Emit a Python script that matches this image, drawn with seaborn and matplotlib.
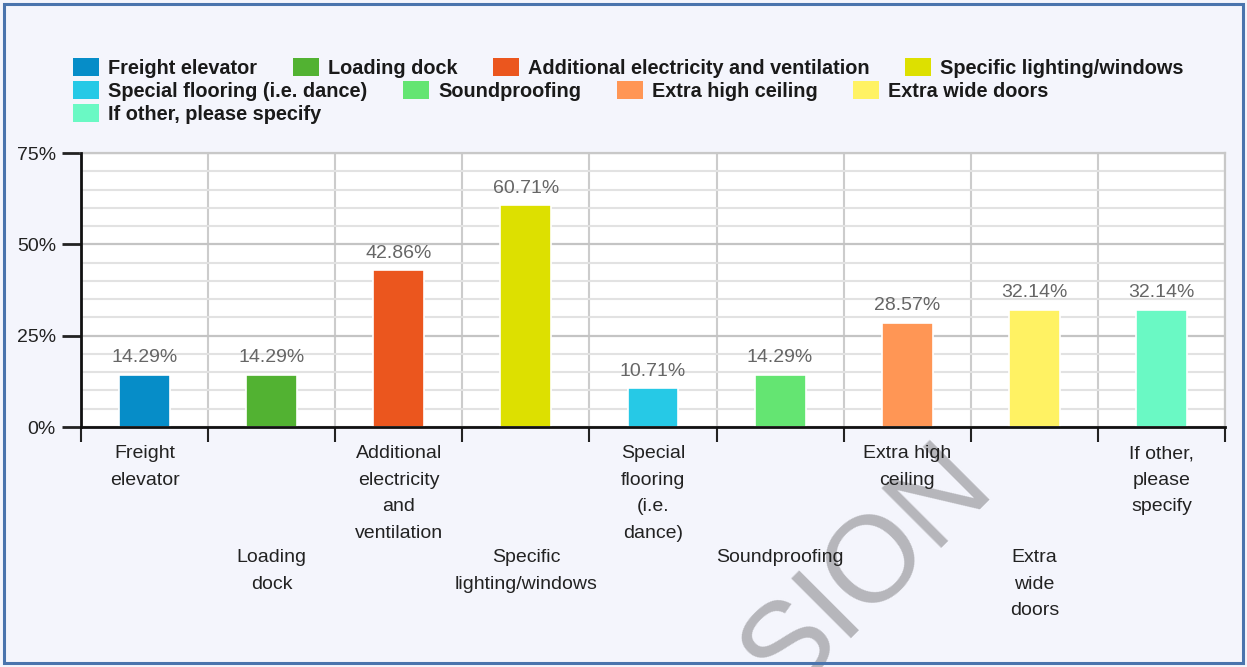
import matplotlib
matplotlib.use("Agg")
import matplotlib.pyplot as plt
import matplotlib.patches as mpatches
from matplotlib.transforms import ScaledTranslation
from matplotlib.ticker import MultipleLocator, FuncFormatter
import seaborn as sns
import pandas as pd

# ---- data -------------------------------------------------------------
categories = [
    "Freight elevator",
    "Loading dock",
    "Additional electricity and ventilation",
    "Specific lighting/windows",
    "Special flooring (i.e. dance)",
    "Soundproofing",
    "Extra high ceiling",
    "Extra wide doors",
    "If other, please specify",
]
axis_labels = [
    "Freight\nelevator",
    "Loading\ndock",
    "Additional\nelectricity\nand\nventilation",
    "Specific\nlighting/windows",
    "Special\nflooring\n(i.e.\ndance)",
    "Soundproofing",
    "Extra high\nceiling",
    "Extra\nwide\ndoors",
    "If other,\nplease\nspecify",
]
percent = [14.29, 14.29, 42.86, 60.71, 10.71, 14.29, 28.57, 32.14, 32.14]
colors = ["#068dc8", "#52b232", "#eb561e", "#dde000", "#26c9e6",
          "#64e572", "#ff9655", "#fff263", "#6af9c4"]
y_ticks = [0, 25, 50, 75]

# ---- style ------------------------------------------------------------
sns.set_style("white")
plt.rcParams["font.family"] = ["Liberation Sans", "DejaVu Sans"]
FS = 14

W, H = 1247, 667
fig = plt.figure(figsize=(W / 100, H / 100), dpi=100, facecolor="#f4f5fc")

# outer frame
fig.add_artist(mpatches.Rectangle((4 / W, 4 / H), 1 - 8 / W, 1 - 8 / H,
                                  transform=fig.transFigure, fill=False,
                                  edgecolor="#4a74ad", linewidth=2.2, zorder=10))

ax = fig.add_axes([81 / W, 1 - 427 / H, (1225 - 81) / W, (427 - 153) / H])
ax.set_facecolor("white")

df = pd.DataFrame({"category": categories, "percent": percent})
sns.barplot(data=df, x="category", y="percent", hue="category",
            palette=colors, dodge=False, legend=False, width=0.40,
            edgecolor="white", linewidth=1.2, saturation=1, ax=ax, zorder=3)

n = len(categories)
ax.set_xlim(-0.5, n - 0.5)
ax.set_ylim(0, 75)

# value labels
for cont in ax.containers:
    ax.bar_label(cont, fmt="%.2f%%", padding=6, fontsize=FS, color="#666666")

# y axis
ax.set_yticks(y_ticks)
ax.yaxis.set_minor_locator(MultipleLocator(5))
ax.yaxis.set_major_formatter(FuncFormatter(lambda v, p: f"{v:.0f}%"))
ax.tick_params(axis="y", which="major", direction="out", length=14, width=2,
               color="#222222", labelsize=FS, labelcolor="#222222", pad=4, left=True)
ax.tick_params(axis="y", which="minor", length=0)
ax.set_ylabel("")

# x axis: ticks at category boundaries, labels at centres
bounds = [i - 0.5 for i in range(n + 1)]
centres = list(range(n))
ax.set_xticks(bounds)
ax.set_xticklabels([""] * len(bounds))
ax.set_xticks(centres, minor=True)
ax.set_xticklabels(axis_labels, minor=True, fontsize=FS, color="#222222",
                   ha="center")
ax.tick_params(axis="x", which="major", direction="out", length=11, width=1.5,
               color="#222222", bottom=True)
ax.tick_params(axis="x", which="minor", length=0, pad=13)
ax.set_xlabel("")

# stagger every second category label lower
shift = ScaledTranslation(0, -104 / 100, fig.dpi_scale_trans)
for i, lab in enumerate(ax.get_xticklabels(minor=True)):
    lab.set_linespacing(1.73)
    if i % 2 == 1:
        lab.set_transform(lab.get_transform() + shift)

# grid
ax.set_axisbelow(True)
ax.grid(axis="x", which="major", color="#cccccc", linewidth=1.5)
ax.grid(axis="y", which="major", color="#c4c4c4", linewidth=1.6)
ax.grid(axis="y", which="minor", color="#e2e2e2", linewidth=1.5)

for side in ("left", "bottom"):
    ax.spines[side].set_color("#111111")
    ax.spines[side].set_linewidth(2)
    ax.spines[side].set_zorder(5)
for side in ("top", "right"):
    ax.spines[side].set_color("#c8c8c8")
    ax.spines[side].set_linewidth(1.6)

# legend: flowing rows of four items each
rows = [categories[0:4], categories[4:8], categories[8:9]]
row_y = [68, 91, 114]
k = 0
for names, yy in zip(rows, row_y):
    handles = []
    for name in names:
        handles.append(mpatches.Patch(facecolor=colors[k], edgecolor="none", label=name))
        k += 1
    fig.legend(handles=handles, loc="center left",
               bbox_to_anchor=(73 / W, 1 - yy / H), ncol=len(handles),
               frameon=False, borderpad=0, borderaxespad=0,
               handlelength=1.31, handleheight=1.0, handletextpad=0.45,
               columnspacing=1.8, prop={"weight": "bold", "size": 14.3},
               labelcolor="#1a1a1a")

# watermark
fig.text(890 / W, 1 - 594 / H, "SION", fontsize=88, color="#b6b6bb",
         rotation=45, ha="center", va="baseline", rotation_mode="anchor",
         zorder=-1)

fig.savefig("out.png", dpi=100, facecolor=fig.get_facecolor())
